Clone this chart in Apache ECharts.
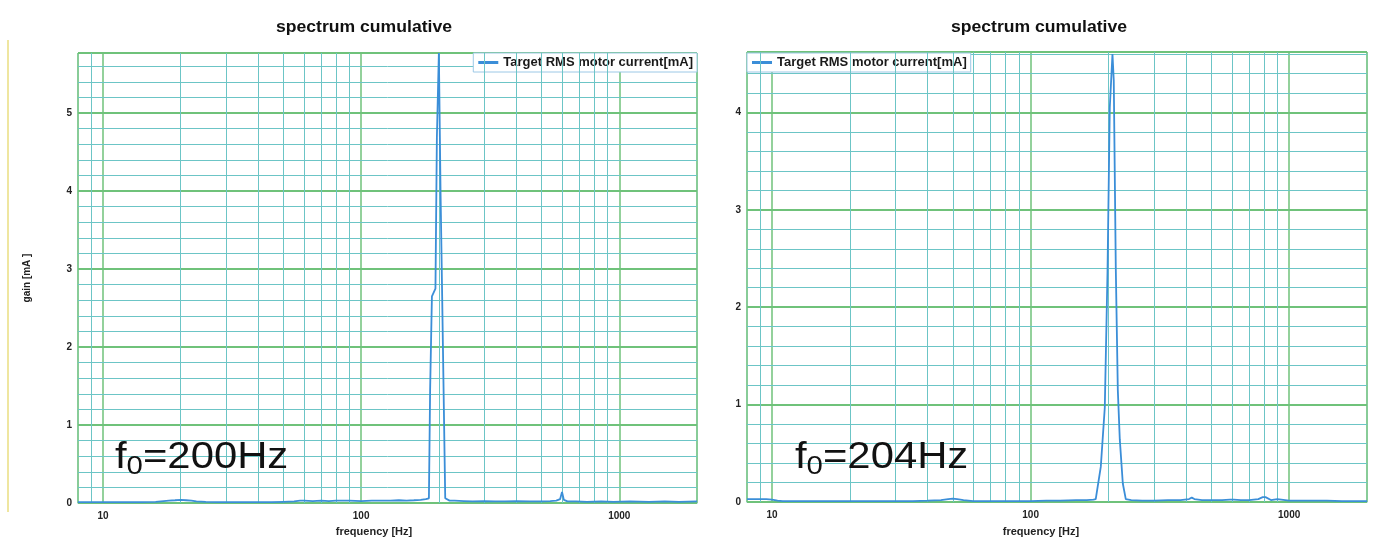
<!DOCTYPE html>
<html><head><meta charset="utf-8">
<script src="https://cdn.jsdelivr.net/npm/echarts@6/dist/echarts.min.js"></script>
<style>html,body{margin:0;padding:0;background:#fff}#c{width:1379px;height:542px}</style>
</head><body><div id="c"></div>
<script>
// ---- data ----
const seriesName = 'Target RMS motor current[mA]';
const chartTitle = 'spectrum cumulative';
const xAxisName = 'frequency [Hz]';
const yAxisName = 'gain [mA ]';
const xTickLabels = [10, 100, 1000];
const minorFreqLines = [9, 20, 30, 40, 50, 60, 70, 80, 90, 200, 300, 400, 500, 600, 700, 800, 900];

const leftFreq = [8, 9, 10, 11, 12, 14, 16, 18, 19, 20, 21, 22, 23, 25, 28, 32, 36, 40, 45, 50,
  55, 58, 60, 65, 70, 75, 80, 90, 100, 110, 120, 130, 140, 150, 160, 170, 178, 183, 185, 188,
  194, 196.5, 200, 201, 203, 206, 209, 211.7, 215, 220, 230, 250, 270, 300, 330, 360, 400, 450, 500, 540,
  570, 590, 600, 610, 630, 680, 750, 850, 950, 1100, 1300, 1500, 1700, 2000];
const leftGain = [0.01, 0.01, 0.01, 0.01, 0.01, 0.01, 0.015, 0.03, 0.035, 0.04, 0.035, 0.03, 0.02, 0.015, 0.01, 0.01, 0.01, 0.01, 0.01, 0.015,
  0.02, 0.03, 0.03, 0.025, 0.03, 0.025, 0.03, 0.03, 0.025, 0.03, 0.03, 0.03, 0.035, 0.03, 0.035, 0.04, 0.05, 0.06, 1.45, 2.65,
  2.75, 4.69, 5.77, 5.77, 4.0, 2.64, 2.64, 0.06, 0.04, 0.03, 0.03, 0.025, 0.02, 0.025, 0.02, 0.02, 0.025, 0.02, 0.02, 0.025,
  0.03, 0.05, 0.14, 0.04, 0.02, 0.02, 0.015, 0.02, 0.015, 0.02, 0.015, 0.02, 0.015, 0.02];

const rightFreq = [8, 8.5, 9, 9.5, 10, 10.5, 11, 12, 14, 17, 20, 25, 30, 35, 40, 45, 48, 50, 52, 55,
  60, 70, 80, 90, 100, 115, 130, 150, 165, 175, 178.6, 186.8, 193.6, 198.3, 202.4, 207.3, 209.7, 213.5, 217.4, 221.3,
  227.3, 233.4, 245, 270, 300, 340, 380, 410, 420, 430, 460, 500, 550, 590, 600, 610, 650, 700, 760, 790,
  800, 810, 850, 900, 1000, 1200, 1400, 1600, 1800, 2000];
const rightGain = [0.03, 0.03, 0.03, 0.03, 0.025, 0.015, 0.01, 0.01, 0.01, 0.01, 0.01, 0.01, 0.01, 0.01, 0.015, 0.02, 0.03, 0.035, 0.03, 0.02,
  0.01, 0.01, 0.01, 0.01, 0.01, 0.015, 0.015, 0.02, 0.02, 0.025, 0.03, 0.36, 0.97, 2.35, 4.05, 4.6, 4.33, 2.41, 1.15, 0.64,
  0.19, 0.03, 0.02, 0.015, 0.015, 0.02, 0.02, 0.03, 0.045, 0.03, 0.02, 0.02, 0.02, 0.025, 0.035, 0.025, 0.02, 0.02, 0.03, 0.05,
  0.065, 0.05, 0.02, 0.03, 0.015, 0.015, 0.015, 0.01, 0.01, 0.01];

const panels = [
  {freq: leftFreq, gain: leftGain, yMax: 5.77, note: '=200Hz'},
  {freq: rightFreq, gain: rightGain, yMax: 4.62, note: '=204Hz'}
];

// ---- styling ----
const FONT = '"Liberation Sans", Arial, sans-serif';
const gridsLayout = [
  {left: 78, top: 53, width: 619, height: 450},
  {left: 747, top: 52, width: 620, height: 450}
];
const lineColor = '#3b8ed8';
const majorColor = '#6fc27a';
const minorColor = '#6cc5c6';

const option = {
  animation: false,
  backgroundColor: '#ffffff',
  grid: gridsLayout.map(g => Object.assign({show: true, borderColor: '#a9d3e6', borderWidth: 1, backgroundColor: '#fff'}, g)),
  xAxis: panels.map((p, i) => ({
    type: 'log', logBase: 10, gridIndex: i, min: 8, max: 2000,
    axisLine: {show: true, onZero: false, lineStyle: {color: '#8ab9da', width: 1}},
    axisTick: {show: false},
    axisLabel: {
      margin: 8, fontFamily: FONT, fontWeight: 'bold', fontSize: 10, color: '#222',
      formatter: v => { const r = Math.round(v); return xTickLabels.includes(r) ? String(r) : ''; }
    },
    splitLine: {show: true, lineStyle: {color: majorColor, width: 1.5}}
  })),
  yAxis: [].concat(...panels.map((p, i) => ([
    {
      type: 'value', gridIndex: i, min: 0, max: p.yMax, interval: 1, z: 2,
      name: i === 0 ? yAxisName : '', nameLocation: 'middle', nameGap: 46, nameRotate: 90,
      nameTextStyle: {fontFamily: FONT, fontWeight: 'bold', fontSize: 10, color: '#222'},
      axisLine: {show: false}, axisTick: {show: false},
      axisLabel: {margin: 6, fontFamily: FONT, fontWeight: 'bold', fontSize: 10, color: '#222',
        formatter: v => Number.isInteger(v) ? String(v) : ''},
      splitLine: {show: true, lineStyle: {color: majorColor, width: 2}}
    },
    {
      type: 'value', gridIndex: i, min: 0, max: p.yMax, interval: 0.2, z: 1, position: 'right',
      axisLine: {show: false}, axisTick: {show: false}, axisLabel: {show: false},
      splitLine: {show: true, lineStyle: {color: minorColor, width: 1}}
    }
  ]))),
  legend: [
    {data: [seriesName], right: 1379 - 697, top: 53},
    {data: [seriesName], left: 747, top: 53}
  ].map(l => Object.assign({
    orient: 'horizontal', backgroundColor: '#fff', borderColor: '#9cc8e6', borderWidth: 1, borderRadius: 0,
    padding: [3, 4, 3, 5], itemWidth: 20, itemHeight: 3, icon: 'rect', itemGap: 4,
    textStyle: {fontFamily: FONT, fontWeight: 'bold', fontSize: 13, color: '#1a1a1a'}
  }, l)),
  series: [].concat(...panels.map((p, i) => ([
    {
      name: 'minor-grid-' + i, type: 'line', xAxisIndex: i, yAxisIndex: i * 2, data: [], z: 1,
      markLine: {silent: true, symbol: 'none', label: {show: false}, animation: false,
        lineStyle: {color: minorColor, width: 1, type: 'solid'},
        emphasis: {disabled: true},
        data: minorFreqLines.map(v => ({xAxis: v}))}
    },
    {
      name: seriesName, type: 'line', xAxisIndex: i, yAxisIndex: i * 2, z: 5,
      showSymbol: false, symbol: 'none', color: lineColor,
      lineStyle: {color: lineColor, width: 1.8},
      data: p.freq.map((f, k) => [f, p.gain[k]])
    }
  ]))),
  graphic: [
    {type: 'line', shape: {x1: 8, y1: 40, x2: 8, y2: 512}, style: {stroke: '#efe6a0', lineWidth: 2}, silent: true},
    {type: 'text', x: 364, y: 28, scaleX: 1.1, style: {text: chartTitle, font: 'bold 16px ' + FONT, fill: '#111', textAlign: 'center', textVerticalAlign: 'middle'}},
    {type: 'text', x: 1039, y: 28, scaleX: 1.1, style: {text: chartTitle, font: 'bold 16px ' + FONT, fill: '#111', textAlign: 'center', textVerticalAlign: 'middle'}},
    {type: 'text', x: 374, y: 532, style: {text: xAxisName, font: 'bold 11px ' + FONT, fill: '#222', textAlign: 'center', textVerticalAlign: 'middle'}},
    {type: 'text', x: 1041, y: 532, style: {text: xAxisName, font: 'bold 11px ' + FONT, fill: '#222', textAlign: 'center', textVerticalAlign: 'middle'}}
  ].concat(panels.map((p, i) => ({
    type: 'text', x: i === 0 ? 115 : 795, y: 436, scaleX: 1.13, z: 100,
    style: {
      text: '{a|f}{b|0}{a|' + p.note + '}',
      rich: {
        a: {fontSize: 37, fontFamily: FONT, fill: '#111', lineHeight: 44},
        b: {fontSize: 26, fontFamily: FONT, fill: '#111', lineHeight: 26, verticalAlign: 'bottom'}
      }
    }
  })))
};

const chart = echarts.init(document.getElementById('c'), null, {renderer: 'canvas'});
chart.setOption(option);
</script>
</body></html>
